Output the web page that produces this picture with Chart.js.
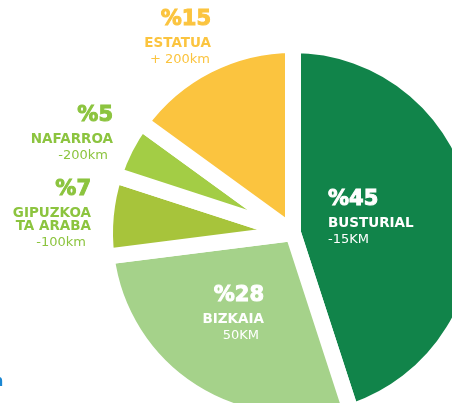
<!DOCTYPE html>
<html>
<head>
<meta charset="utf-8">
<script src="https://cdn.jsdelivr.net/npm/chart.js@4.4.1/dist/chart.umd.min.js"></script>
<style>
  html, body { margin: 0; padding: 0; background: #fff; }
  #wrap { width: 452px; height: 403px; position: relative; }
</style>
</head>
<body>
<div id="wrap"><canvas id="pie"></canvas></div>
<script>
const regions = ['BUSTURIAL', 'BIZKAIA', 'GIPUZKOA\nTA ARABA', 'NAFARROA', 'ESTATUA'];
const shares = [45, 28, 7, 5, 15];
const distances = ['-15KM', '50KM', '-100km', '-200km', '+ 200km'];
const sliceColors = ['#11844a', '#a5d28a', '#a7c43b', '#a3cd45', '#fbc43f'];
const textColors = ['#ffffff', '#ffffff', '#8cc43f', '#8cc43f', '#fbc43f'];

// where each caption block sits, and how it's aligned
const captionLayout = [
  { x: 328, y: 200, align: 'left' },
  { x: 264, y: 296, align: 'right' },
  { x: 91, y: 190, align: 'right' },
  { x: 113, y: 116, align: 'right' },
  { x: 211, y: 20, align: 'right' },
];

const captions = {
  id: 'captions',
  afterDraw(chart) {
    const { ctx } = chart;
    ctx.save();
    ctx.textBaseline = 'middle';
    shares.forEach((v, i) => {
      const pos = captionLayout[i];
      ctx.textAlign = pos.align;
      ctx.fillStyle = textColors[i];
      ctx.strokeStyle = textColors[i];
      ctx.lineWidth = 1;
      ctx.font = 'bold 21px "DejaVu Sans", sans-serif';
      ctx.fillText('%' + v, pos.x, pos.y);
      ctx.strokeText('%' + v, pos.x, pos.y); // a bit heavier, like the original
      const lines = regions[i].split('\n');
      ctx.font = 'bold 13.5px "DejaVu Sans", sans-serif';
      let y = pos.y + 23;
      lines.forEach((l, k) => {
        ctx.fillText(l, pos.x, y);
        if (k < lines.length - 1) y += 13;
      });
      ctx.font = '13px "DejaVu Sans", sans-serif';
      const dx = pos.align === 'right' ? (i === 4 ? -1 : -5) : 0;
      ctx.fillText(distances[i], pos.x + dx, y + 17);
    });
    // stray cropped letter at the left edge
    ctx.fillStyle = '#1b87d2';
    ctx.textAlign = 'left';
    ctx.font = 'bold 16px "DejaVu Sans", sans-serif';
    ctx.fillText('n', -8, 382);
    ctx.restore();
  },
};

new Chart(document.getElementById('pie').getContext('2d'), {
  type: 'pie',
  data: {
    labels: regions,
    datasets: [
      {
        data: shares,
        backgroundColor: sliceColors,
        borderColor: '#ffffff',
        borderWidth: 16,
        borderJoinStyle: 'bevel',
        clip: false,
      },
    ],
  },
  options: {
    responsive: true,
    maintainAspectRatio: false,
    animation: false,
    radius: 188,
    layout: { padding: { left: 134, right: 0, top: 63, bottom: 0 } },
    plugins: {
      legend: { display: false },
      tooltip: { enabled: false },
    },
  },
  plugins: [captions],
});
</script>
</body>
</html>
